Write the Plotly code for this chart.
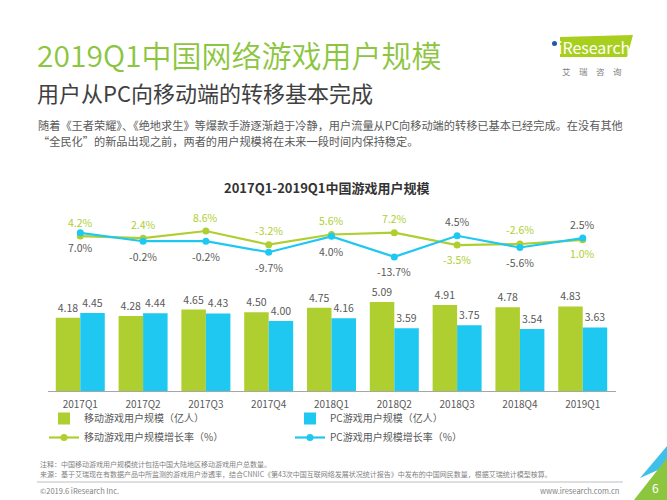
import plotly.graph_objects as go

categories = ["2017Q1", "2017Q2", "2017Q3", "2017Q4", "2018Q1", "2018Q2", "2018Q3", "2018Q4", "2019Q1"]
mobile_users = [4.18, 4.28, 4.65, 4.50, 4.75, 5.09, 4.91, 4.78, 4.83]
pc_users = [4.45, 4.44, 4.43, 4.00, 4.16, 3.59, 3.75, 3.54, 3.63]
mobile_growth = [4.2, 2.4, 8.6, -3.2, 5.6, 7.2, -3.5, -2.6, 1.0]
pc_growth = [7.0, -0.2, -0.2, -9.7, 4.0, -13.7, 4.5, -5.6, 2.5]
mobile_label_above = [True] * 6 + [False, True, False]
pc_label_above = [False] * 6 + [True, False, True]

GREEN = "#AECF2F"
BLUE = "#1FC8F0"
GRAY = "#595959"
FONT = "Noto Sans CJK SC"

W, H = 667, 500


def px(x):
    return x / W


def py(y):
    return 1 - y / H


fig = go.Figure()

fig.add_trace(go.Bar(
    x=categories, y=mobile_users, name="移动游戏用户规模（亿人）",
    marker=dict(color=GREEN, line=dict(width=0)),
    text=[f"{v:.2f}" for v in mobile_users], textposition="outside",
    textfont=dict(size=10.5, color=GRAY, family=FONT), cliponaxis=False,
    xaxis="x", yaxis="y"))
fig.add_trace(go.Bar(
    x=categories, y=pc_users, name="PC游戏用户规模（亿人）",
    marker=dict(color=BLUE, line=dict(width=0)),
    text=[f"{v:.2f}" for v in pc_users], textposition="outside",
    textfont=dict(size=10.5, color=GRAY, family=FONT), cliponaxis=False,
    xaxis="x", yaxis="y"))
fig.add_trace(go.Scatter(
    x=categories, y=mobile_growth, name="移动游戏用户规模增长率（%）",
    mode="lines+markers",
    line=dict(color=GREEN, width=2.2), marker=dict(color=GREEN, size=7),
    cliponaxis=False, xaxis="x", yaxis="y2"))
fig.add_trace(go.Scatter(
    x=categories, y=pc_growth, name="PC游戏用户规模增长率（%）",
    mode="lines+markers",
    line=dict(color=BLUE, width=2.2), marker=dict(color=BLUE, size=7),
    cliponaxis=False, xaxis="x", yaxis="y2"))

fig.update_layout(
    width=W, height=H,
    margin=dict(l=0, r=0, t=0, b=0),
    paper_bgcolor="white", plot_bgcolor="rgba(0,0,0,0)",
    font=dict(family=FONT, color=GRAY),
    barmode="group", bargap=0.22, bargroupgap=0,
    showlegend=True,
    legend=dict(orientation="h", x=px(44), y=py(404), xanchor="left", yanchor="top",
                entrywidth=201, entrywidthmode="pixels",
                font=dict(size=10, color=GRAY, family=FONT),
                tracegroupgap=0, itemwidth=30, bgcolor="rgba(0,0,0,0)"),
    xaxis=dict(domain=[px(47.5), px(615.5)], anchor="y", showgrid=False,
               showline=True, linecolor="#A6A6A6", linewidth=1.2,
               ticks="", ticklabelstandoff=4,
               tickfont=dict(size=10, color=GRAY, family=FONT)),
    yaxis=dict(domain=[py(391), py(280)], range=[0, 6.34], visible=False,
               showgrid=False, zeroline=False),
    yaxis2=dict(domain=[py(270), py(210)], range=[-25, 26.7], visible=False,
                showgrid=False, zeroline=False, anchor="x"),
)

annotations = [
    dict(text="2019Q1中国网络游戏用户规模", x=px(35), y=py(54), xanchor="left", yanchor="middle",
         font=dict(size=30, color="#8CC63F", family=FONT, weight=350)),
    dict(text="用户从PC向移动端的转移基本完成", x=px(35), y=py(92), xanchor="left", yanchor="middle",
         font=dict(size=22, color="#404040", family=FONT)),
    dict(text="随着《王者荣耀》、《绝地求生》等爆款手游逐渐趋于冷静，用户流量从PC向移动端的转移已基本已经完成。在没有其他",
         x=px(36), y=py(125), xanchor="left", yanchor="middle",
         font=dict(size=11.2, color=GRAY, family=FONT)),
    dict(text="“全民化”的新品出现之前，两者的用户规模将在未来一段时间内保持稳定。",
         x=px(36), y=py(141), xanchor="left", yanchor="middle",
         font=dict(size=11.2, color=GRAY, family=FONT)),
    dict(text="<b>2017Q1-2019Q1中国游戏用户规模</b>", x=px(327), y=py(187), xanchor="center", yanchor="middle",
         font=dict(size=13, color="#333333", family=FONT)),
    dict(text="注释：中国移动游戏用户规模统计包括中国大陆地区移动游戏用户总数量。",
         x=px(38), y=py(464), xanchor="left", yanchor="middle",
         font=dict(size=7, color="#7F7F7F", family=FONT)),
    dict(text="来源：基于艾瑞现在有数据产品中所监测的游戏用户渗透率，结合CNNIC《第43次中国互联网络发展状况统计报告》中发布的中国网民数量，根据艾瑞统计模型核算。",
         x=px(38), y=py(474), xanchor="left", yanchor="middle",
         font=dict(size=7, color="#7F7F7F", family=FONT)),
    dict(text="©2019.6 iResearch Inc.", x=px(38), y=py(490), xanchor="left", yanchor="middle",
         font=dict(size=7.5, color="#7F7F7F", family=FONT)),
    dict(text="www.iresearch.com.cn", x=px(621), y=py(490), xanchor="right", yanchor="middle",
         font=dict(size=7.5, color="#7F7F7F", family=FONT)),
    dict(text="6", x=px(655), y=py(487), xanchor="center", yanchor="middle",
         font=dict(size=12, color="white", family=FONT)),
    dict(text="iResearch", x=px(556), y=py(47), xanchor="left", yanchor="middle",
         font=dict(size=16, color="white", family=FONT)),
    dict(text="艾　瑞　咨　询", x=px(592), y=py(71), xanchor="center", yanchor="middle",
         font=dict(size=8.5, color="#7F7F7F", family=FONT)),
]
for a in annotations:
    a.update(xref="paper", yref="paper", showarrow=False)

# growth-rate labels, placed at the data points through the axes
for cat, v, above in zip(categories, mobile_growth, mobile_label_above):
    annotations.append(dict(x=cat, y=v, xref="x", yref="y2", text=f"{v:.1f}%", showarrow=False,
                            yshift=14 if above else -14, yanchor="middle",
                            font=dict(size=10.5, color=GREEN, family=FONT)))
for cat, v, above in zip(categories, pc_growth, pc_label_above):
    annotations.append(dict(x=cat, y=v, xref="x", yref="y2", text=f"{v:.1f}%", showarrow=False,
                            yshift=14 if above else -15, yanchor="middle",
                            font=dict(size=10.5, color=GRAY, family=FONT)))
fig.update_layout(annotations=annotations)


def path(points):
    return "M " + " L ".join(f"{px(x)},{py(y)}" for x, y in points) + " Z"


shapes = [
    dict(type="path", path=path([(560, 37), (633, 35), (627, 57), (560, 57)]),
         fillcolor="#A8CF1E", line=dict(width=0)),
    dict(type="circle", x0=px(552), x1=px(557), y0=py(46), y1=py(41),
         fillcolor="#1E5AA8", line=dict(width=0)),
    dict(type="line", x0=px(37), x1=px(623), y0=py(482), y1=py(482),
         line=dict(color="#BFBFBF", width=1)),
    dict(type="path", path=path([(640, 478), (667, 446), (667, 466)]),
         fillcolor="#3FC0EA", line=dict(width=0)),
    dict(type="path", path=path([(634, 500), (667, 458), (667, 500)]),
         fillcolor="#8CC63F", line=dict(width=0)),
]
for s in shapes:
    s.update(xref="paper", yref="paper", layer="below")
fig.update_layout(shapes=shapes)

fig.write_html("out.html", config={"displayModeBar": False},
               post_script="document.body.style.margin='0';document.body.style.overflow='hidden';")
